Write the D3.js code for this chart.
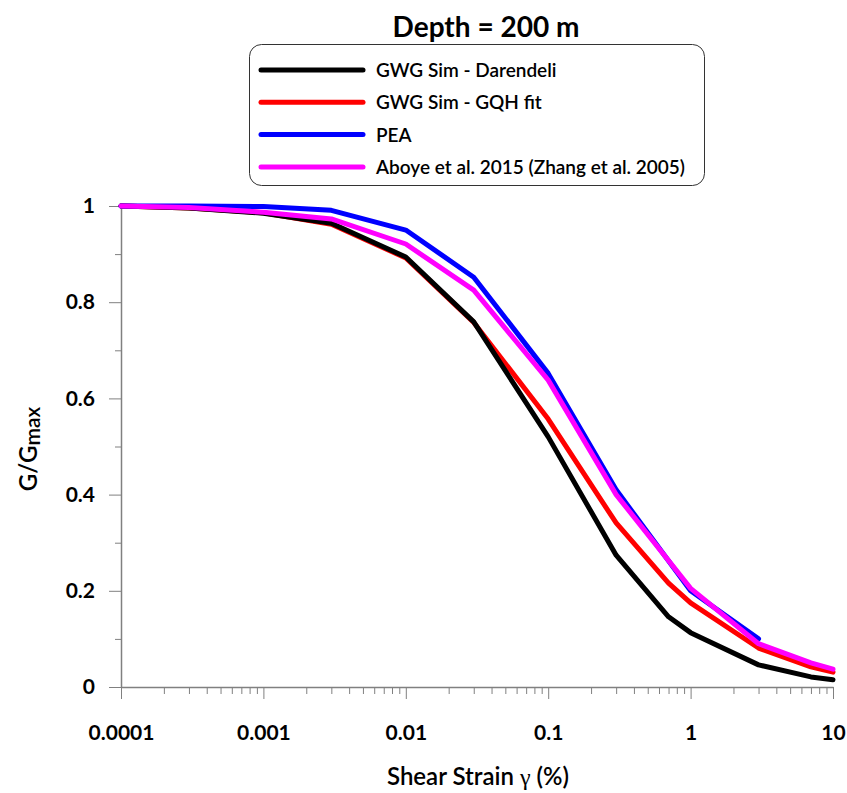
<!DOCTYPE html>
<html>
<head>
<meta charset="utf-8">
<script src="https://cdn.jsdelivr.net/npm/d3@7"></script>
<style>
	body { margin: 0; background: #fff; }
	svg text { font-family: Lato, "Open Sans", sans-serif; fill: #000; }
</style>
</head>
<body>
<div id="chart"></div>
<script>
(function() {
	// shear strain (%) at which each curve was sampled
	let strainSim = [0.0001, 0.0003, 0.001, 0.003, 0.01, 0.03, 0.1, 0.3, 0.7, 1, 3, 7, 10];
	let strainPea = [0.0001, 0.0003, 0.001, 0.003, 0.01, 0.03, 0.1, 0.3, 1, 3];
	let strainAboye = [0.0001, 0.0003, 0.001, 0.003, 0.01, 0.03, 0.1, 0.3, 1, 3, 7, 10];

	// G/Gmax
	let darendeli = [1.0, 0.996, 0.985, 0.964, 0.894, 0.759, 0.52, 0.274, 0.146, 0.113, 0.046, 0.021, 0.015];
	let gqhFit = [1.0, 0.996, 0.986, 0.962, 0.892, 0.758, 0.557, 0.341, 0.216, 0.175, 0.081, 0.042, 0.031];
	let pea = [1.0, 1.0, 0.999, 0.991, 0.95, 0.852, 0.652, 0.41, 0.2, 0.1];
	let aboye = [1.0, 0.997, 0.987, 0.973, 0.921, 0.825, 0.638, 0.4, 0.205, 0.09, 0.05, 0.037];

	let seriesNames = ['GWG Sim - Darendeli', 'GWG Sim - GQH fit', 'PEA', 'Aboye et al. 2015 (Zhang et al. 2005)'];
	let seriesColors = ['#000000', '#ff0000', '#0000ff', '#ff00ff'];

	let xTicks = [0.0001, 0.001, 0.01, 0.1, 1, 10];
	let xTickLabels = ['0.0001', '0.001', '0.01', '0.1', '1', '10'];
	let yTicks = [0, 0.2, 0.4, 0.6, 0.8, 1];
	let yTickLabels = ['0', '0.2', '0.4', '0.6', '0.8', '1'];

	let W = 847, H = 793;
	let svg = d3.select('#chart')
		.append('svg')
		.attr('width', W)
		.attr('height', H);

	let x = d3.scaleLog().domain([0.0001, 10]).range([121, 833]);
	let y = d3.scaleLinear().domain([0, 1]).range([687, 206]);

	let axisColor = '#808080';

	// minor ticks
	let xMinor = [];
	for (let d = 0.0001; d < 10; d *= 10) {
		for (let k = 2; k <= 9; k++) xMinor.push(+(d * k).toPrecision(3));
	}
	let yMinor = [0.1, 0.3, 0.5, 0.7, 0.9];

	svg.append('g')
		.attr('transform', 'translate(0,' + y(0) + ')')
		.call(d3.axisBottom(x).tickValues(xMinor).tickSize(7).tickSizeOuter(0).tickFormat(''))
		.call(g => g.select('.domain').remove())
		.call(g => g.selectAll('line').attr('stroke', axisColor));

	svg.append('g')
		.attr('transform', 'translate(' + x(0.0001) + ',0)')
		.call(d3.axisLeft(y).tickValues(yMinor).tickSize(6).tickSizeOuter(0).tickFormat(''))
		.call(g => g.select('.domain').remove())
		.call(g => g.selectAll('line').attr('stroke', axisColor));

	// major axes
	let xAxis = svg.append('g')
		.attr('transform', 'translate(0,' + y(0) + ')')
		.call(d3.axisBottom(x).tickValues(xTicks).tickSize(12).tickSizeOuter(0)
			.tickFormat((d, i) => xTickLabels[i]));
	xAxis.select('.domain').attr('stroke', axisColor).attr('stroke-width', 1.5);
	xAxis.selectAll('line').attr('stroke', axisColor);
	xAxis.selectAll('text')
		.attr('y', 38)
		.style('font-size', '21px')
		.style('font-weight', 'bold');

	let yAxis = svg.append('g')
		.attr('transform', 'translate(' + x(0.0001) + ',0)')
		.call(d3.axisLeft(y).tickValues(yTicks).tickSize(12).tickSizeOuter(0)
			.tickFormat((d, i) => yTickLabels[i]));
	yAxis.select('.domain').attr('stroke', axisColor).attr('stroke-width', 1.5);
	yAxis.selectAll('line').attr('stroke', axisColor);
	yAxis.selectAll('text')
		.attr('x', -26)
		.style('font-size', '21px')
		.style('font-weight', 'bold');

	// curves
	let line = d3.line()
		.x(d => x(d[0]))
		.y(d => y(d[1]));

	let curves = [
		{ xs: strainSim, ys: gqhFit, color: seriesColors[1] },
		{ xs: strainSim, ys: darendeli, color: seriesColors[0] },
		{ xs: strainPea, ys: pea, color: seriesColors[2] },
		{ xs: strainAboye, ys: aboye, color: seriesColors[3] }
	];

	svg.selectAll('.curve')
		.data(curves)
		.enter()
		.append('path')
		.attr('class', 'curve')
		.attr('d', c => line(d3.zip(c.xs, c.ys)))
		.attr('fill', 'none')
		.attr('stroke', c => c.color)
		.attr('stroke-width', 5)
		.attr('stroke-linejoin', 'round')
		.attr('stroke-linecap', 'round');

	// title
	svg.append('text')
		.attr('x', 486)
		.attr('y', 37)
		.attr('text-anchor', 'middle')
		.style('font-size', '28px')
		.style('font-weight', 'bold')
		.text('Depth = 200 m');

	// legend
	let legend = svg.append('g');
	legend.append('rect')
		.attr('x', 249.5)
		.attr('y', 44.5)
		.attr('width', 455)
		.attr('height', 141)
		.attr('rx', 12)
		.attr('fill', '#fff')
		.attr('stroke', '#333')
		.attr('stroke-width', 1);

	let rows = legend.selectAll('.row')
		.data(seriesNames)
		.enter()
		.append('g')
		.attr('class', 'row')
		.attr('transform', (d, i) => 'translate(0,' + (70 + i * 32.3) + ')');
	rows.append('line')
		.attr('x1', 261)
		.attr('x2', 363)
		.attr('stroke', (d, i) => seriesColors[i])
		.attr('stroke-width', 5)
		.attr('stroke-linecap', 'round');
	rows.append('text')
		.attr('x', 376)
		.attr('y', 7)
		.style('font-size', '19px')
		.style('font-weight', '600')
		.text(d => d);

	// axis titles
	svg.append('text')
		.attr('x', 478)
		.attr('y', 785)
		.attr('text-anchor', 'middle')
		.style('font-size', '24px')
		.style('font-weight', '600')
		.call(t => {
			t.append('tspan').text('Shear Strain ');
			t.append('tspan').style('font-family', '"Liberation Serif", serif').style('font-weight', 'normal').text('γ');
			t.append('tspan').text(' (%)');
		});

	svg.append('text')
		.attr('transform', 'translate(37,449) rotate(-90)')
		.attr('text-anchor', 'middle')
		.style('font-size', '24px')
		.style('font-weight', '600')
		.call(t => {
			t.append('tspan').text('G/G');
			t.append('tspan').style('font-size', '21px').attr('dy', 3).text('max');
		});
})();
</script>
</body>
</html>
